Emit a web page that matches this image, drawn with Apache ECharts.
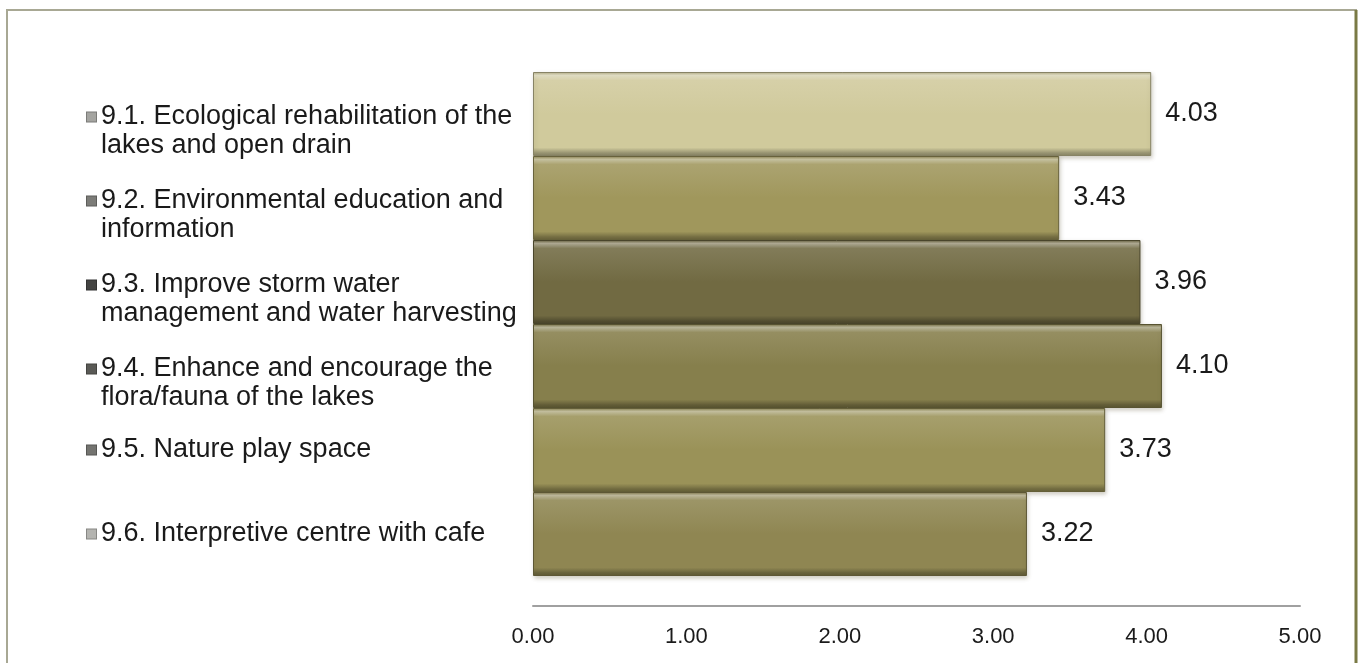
<!DOCTYPE html>
<html>
<head>
<meta charset="utf-8">
<script src="https://cdn.jsdelivr.net/npm/echarts@6/dist/echarts.min.js"></script>
<style>
html,body{margin:0;padding:0;background:#fff;}
#c{width:1361px;height:663px;}
</style>
</head>
<body>
<div id="c"></div>
<script>
const categories = [
  "9.1. Ecological rehabilitation of the\nlakes and open drain",
  "9.2. Environmental education and\ninformation",
  "9.3. Improve storm water\nmanagement and water harvesting",
  "9.4. Enhance and encourage the\nflora/fauna of the lakes",
  "9.5. Nature play space",
  "9.6. Interpretive centre with cafe"
];
const values = [4.03, 3.43, 3.96, 4.10, 3.73, 3.22];
const barColors = ["#d0ca9c", "#a0975c", "#716a42", "#867f4c", "#9a9258", "#8f8652"];
const markerColors = ["#a4a4a0", "#7c7c78", "#444442", "#5a5a56", "#747470", "#b4b4b0"];
const xTicks = [0, 1, 2, 3, 4, 5];

function shade(hex, f) {
  const n = parseInt(hex.slice(1), 16);
  let r = (n >> 16) & 255, g = (n >> 8) & 255, b = n & 255;
  if (f >= 0) { r += (255 - r) * f; g += (255 - g) * f; b += (255 - b) * f; }
  else { r *= (1 + f); g *= (1 + f); b *= (1 + f); }
  return "rgb(" + Math.round(r) + "," + Math.round(g) + "," + Math.round(b) + ")";
}

const rich = {
  t: { fontFamily: "Liberation Sans", fontSize: 27, color: "#1a1a1a", lineHeight: 29 },
  e: { fontFamily: "Liberation Sans", fontSize: 27, lineHeight: 35 },
  g: { width: 5, height: 8 },
  ind: { width: 14, height: 8 }
};
markerColors.forEach((c, i) => {
  rich["m" + i] = { width: 9, height: 9, backgroundColor: c, borderColor: shade(c, -0.25), borderWidth: 1 };
});

const chart = echarts.init(document.getElementById("c"), null, { renderer: "canvas" });
chart.setOption({
  backgroundColor: "#ffffff",
  animation: false,
  grid: { left: 533, right: 61, top: 72, bottom: 87, containLabel: false },
  xAxis: {
    type: "value", min: 0, max: 5, interval: 1, offset: 30,
    axisLine: { show: true, lineStyle: { color: "#a0a0a0", width: 2 } },
    axisTick: { show: false },
    splitLine: { show: false },
    axisLabel: {
      margin: 20,
      fontFamily: "Liberation Sans", fontSize: 22, color: "#1a1a1a",
      formatter: v => xTicks.includes(v) ? v.toFixed(2) : ""
    }
  },
  yAxis: {
    type: "category", inverse: true, data: categories,
    axisLine: { show: false }, axisTick: { show: false },
    axisLabel: {
      interval: 0, hideOverlap: false,
      align: "left", margin: 446, verticalAlign: "middle",
      formatter: (val, idx) => {
        const lines = val.split("\n");
        if (lines.length === 1) return "{m" + idx + "|}{g|}{t|" + lines[0] + "}";
        return "{e| }\n{m" + idx + "|}{g|}{t|" + lines[0] + "}\n{ind|}{t|" + lines[1] + "}";
      },
      rich: rich
    }
  },
  series: [{
    type: "bar",
    data: values.map((v, i) => ({
      value: v,
      itemStyle: {
        color: new echarts.graphic.LinearGradient(0, 0, 0, 1, [
          { offset: 0, color: shade(barColors[i], -0.15) },
          { offset: 0.04, color: shade(barColors[i], 0.45) },
          { offset: 0.1, color: shade(barColors[i], 0.12) },
          { offset: 0.5, color: barColors[i] },
          { offset: 0.9, color: barColors[i] },
          { offset: 0.96, color: shade(barColors[i], -0.25) },
          { offset: 1, color: shade(barColors[i], -0.35) }
        ]),
        borderColor: shade(barColors[i], -0.35),
        borderWidth: 1,
        shadowColor: "rgba(80,70,40,0.25)",
        shadowBlur: 4, shadowOffsetX: 1, shadowOffsetY: 2
      }
    })),
    barWidth: "100%",
    barCategoryGap: "0%",
    label: {
      show: true, position: "right", distance: 14,
      fontFamily: "Liberation Sans", fontSize: 27, color: "#1a1a1a",
      formatter: p => p.value.toFixed(2)
    }
  }],
  graphic: [
    { type: "rect", silent: true, z: -1, shape: { x: 7, y: 10, width: 1349, height: 670 },
      style: { fill: "none", stroke: "#a8a894", lineWidth: 2 } },
    { type: "line", silent: true, z: -1, shape: { x1: 1356, y1: 10, x2: 1356, y2: 663 },
      style: { stroke: "#7a7a45", lineWidth: 3 } }
  ]
});
</script>
</body>
</html>
